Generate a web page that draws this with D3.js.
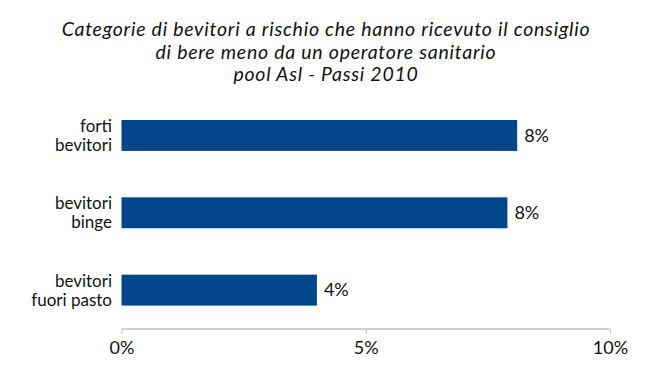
<!DOCTYPE html>
<html>
<head>
<meta charset="utf-8">
<script src="https://cdn.jsdelivr.net/npm/d3@7"></script>
<style>
  body { margin: 0; background: #fff; }
  svg text { font-family: Lato, "Open Sans", sans-serif; fill: #111; }
</style>
</head>
<body>
<div id="chart"></div>
<script>
// data
const categories = [["forti", "bevitori"], ["bevitori", "binge"], ["bevitori", "fuori pasto"]];
const values = [8.1, 7.9, 4.0];
const valueLabels = ["8%", "8%", "4%"];
const tickValues = [0, 5, 10];
const titleLines = [
  "Categorie di bevitori a rischio che hanno ricevuto il consiglio",
  "di bere meno da un operatore sanitario",
  "pool Asl - Passi 2010"
];

const width = 660, height = 377;

const svg = d3.select("#chart").append("svg")
  .attr("width", width)
  .attr("height", height);

// title
svg.append("g").selectAll("text")
  .data(titleLines)
  .enter().append("text")
  .attr("x", 326)
  .attr("y", (d, i) => 36 + i * 22.5)
  .attr("text-anchor", "middle")
  .style("font-size", "19.5px")
  .style("letter-spacing", "0.75px")
  .style("font-style", "italic")
  .text(d => d);

const x = d3.scaleLinear()
  .domain([0, 10])
  .range([121.5, 610]);

const y = d3.scaleBand()
  .domain(d3.range(values.length))
  .range([120, 305.6])
  .paddingInner(0.6)
  .paddingOuter(0);

// bars
svg.selectAll(".bar")
  .data(values)
  .enter().append("rect")
  .attr("class", "bar")
  .attr("x", x(0))
  .attr("y", (d, i) => y(i))
  .attr("width", d => x(d) - x(0))
  .attr("height", y.bandwidth())
  .attr("fill", "#00468b");

// value labels
svg.selectAll(".val")
  .data(values)
  .enter().append("text")
  .attr("class", "val")
  .attr("x", d => x(d) + 7)
  .attr("y", (d, i) => y(i) + y.bandwidth() / 2)
  .attr("dy", "0.35em")
  .style("font-size", "18px")
  .text((d, i) => valueLabels[i]);

// category labels
const cat = svg.selectAll(".cat")
  .data(categories)
  .enter().append("text")
  .attr("class", "cat")
  .attr("text-anchor", "end")
  .style("font-size", "17px");

cat.selectAll("tspan")
  .data((d, i) => d.map(t => ({ t: t, i: i })))
  .enter().append("tspan")
  .attr("x", 112)
  .attr("y", (d, j) => y(d.i) + y.bandwidth() / 2 + (j === 0 ? -9.5 : 9.5))
  .attr("dy", "0.35em")
  .text(d => d.t);

// x axis
const xAxis = d3.axisBottom(x)
  .tickValues(tickValues)
  .tickSize(5)
  .tickFormat(d => d + "%");

const ax = svg.append("g")
  .attr("transform", "translate(0,329)")
  .call(xAxis);

ax.select(".domain").attr("stroke", "#c0c0c0").attr("stroke-width", 1.5)
  .attr("d", "M" + x(0) + ",0H" + x(10));
ax.selectAll(".tick line").attr("stroke", "#c0c0c0");
ax.selectAll(".tick text")
  .attr("y", 12)
  .style("font-size", "18px")
  .style("font-family", "Lato, 'Open Sans', sans-serif")
  .attr("fill", "#111");
</script>
</body>
</html>
